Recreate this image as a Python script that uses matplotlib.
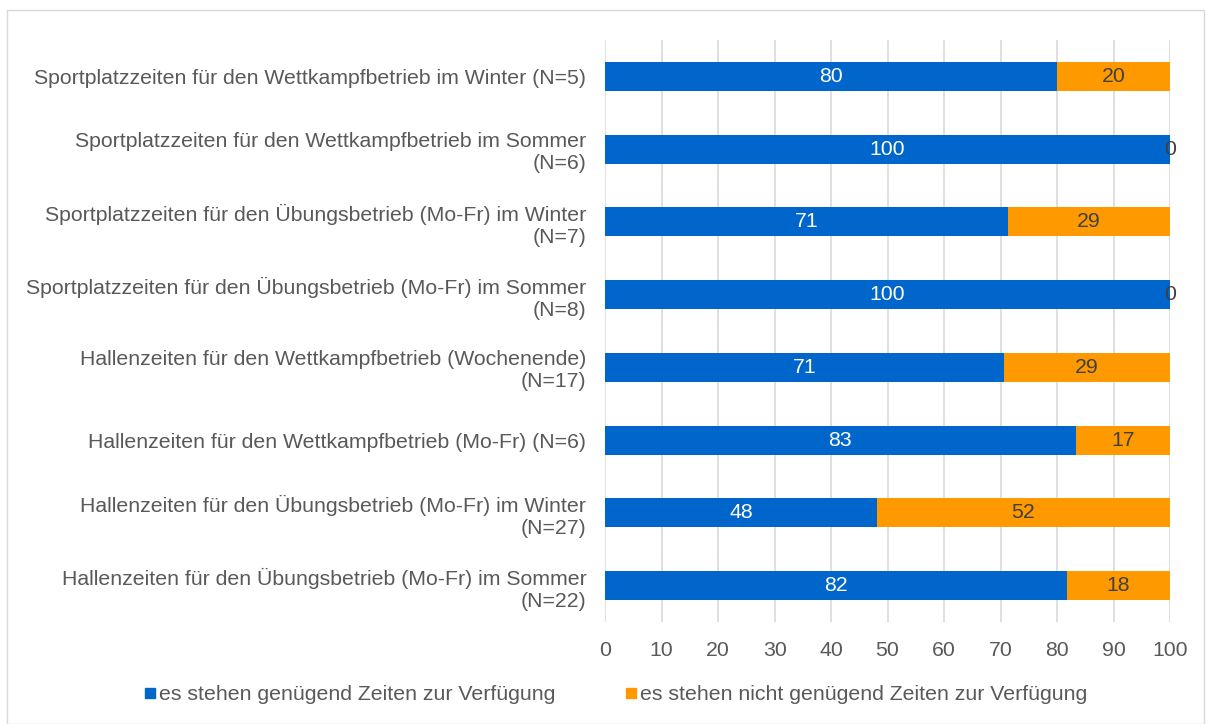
import matplotlib
matplotlib.use("Agg")
import matplotlib.pyplot as plt
from matplotlib.patches import Rectangle
from matplotlib.lines import Line2D

categories = [
    "Sportplatzzeiten für den Wettkampfbetrieb im Winter (N=5)",
    "Sportplatzzeiten für den Wettkampfbetrieb im Sommer\n(N=6)",
    "Sportplatzzeiten für den Übungsbetrieb (Mo-Fr) im Winter\n(N=7)",
    "Sportplatzzeiten für den Übungsbetrieb (Mo-Fr) im Sommer\n(N=8)",
    "Hallenzeiten für den Wettkampfbetrieb (Wochenende)\n(N=17)",
    "Hallenzeiten für den Wettkampfbetrieb (Mo-Fr) (N=6)",
    "Hallenzeiten für den Übungsbetrieb (Mo-Fr) im Winter\n(N=27)",
    "Hallenzeiten für den Übungsbetrieb (Mo-Fr) im Sommer\n(N=22)",
]
genuegend = [80.0, 100.0, 71.4, 100.0, 70.6, 83.3, 48.1, 81.8]
nicht_genuegend = [20.0, 0.0, 28.6, 0.0, 29.4, 16.7, 51.9, 18.2]
series_names = ["es stehen genügend Zeiten zur Verfügung",
                "es stehen nicht genügend Zeiten zur Verfügung"]
xticks = [0, 10, 20, 30, 40, 50, 60, 70, 80, 90, 100]

BLUE = "#0066CC"
ORANGE = "#FF9900"
TEXT = "#595959"
GRID = "#D9D9D9"
FS = 15.3

plt.rcParams['font.family'] = ['Liberation Sans', 'DejaVu Sans']

W, H = 1206, 724
fig = plt.figure(figsize=(W / 100, H / 100), dpi=100)
ax = fig.add_axes([605 / W, 1 - 622 / H, (1170 - 605) / W, (622 - 40) / H])

y = list(range(len(categories)))
b1 = ax.barh(y, genuegend, height=0.4, color=BLUE, zorder=3)
b2 = ax.barh(y, nicht_genuegend, left=genuegend, height=0.4, color=ORANGE, zorder=3)

ax.bar_label(b1, labels=[f"{v:.0f}" for v in genuegend], label_type="center",
             color="white", fontsize=FS, zorder=4)
ax.bar_label(b2, labels=[f"{v:.0f}" for v in nicht_genuegend], label_type="center",
             color="#404040", fontsize=FS, zorder=4)

ax.set_xlim(0, 100)
ax.set_ylim(len(categories) - 0.5, -0.5)
ax.set_xticks(xticks)
ax.set_xticklabels([str(t) for t in xticks])
ax.set_yticks(y)
ax.set_yticklabels(categories)
ax.tick_params(axis="both", length=0, colors=TEXT, labelsize=FS)
ax.tick_params(axis="x", pad=13.5)
ax.tick_params(axis="y", pad=13.5)
for lab in ax.get_yticklabels():
    lab.set_horizontalalignment("right")
    lab.set_multialignment("right")
for s in ax.spines.values():
    s.set_visible(False)
ax.xaxis.grid(True, color=GRID, linewidth=1.2, zorder=0)
ax.set_axisbelow(True)

handles = [Line2D([], [], marker="s", linestyle="none", markersize=7, color=BLUE),
           Line2D([], [], marker="s", linestyle="none", markersize=7, color=ORANGE)]
leg = fig.legend(handles, series_names, loc="center", bbox_to_anchor=(616 / W, 1 - 695 / H),
                 ncol=2, frameon=False, fontsize=FS, handlelength=0.5, handletextpad=0.2,
                 columnspacing=3.3, labelcolor=TEXT)

fig.patches.append(Rectangle((7 / W, 0), (1204 - 7) / W, (H - 10) / H, transform=fig.transFigure,
                             fill=False, edgecolor="#D9D9D9", linewidth=1))

fig.savefig("out.png", dpi=100)
